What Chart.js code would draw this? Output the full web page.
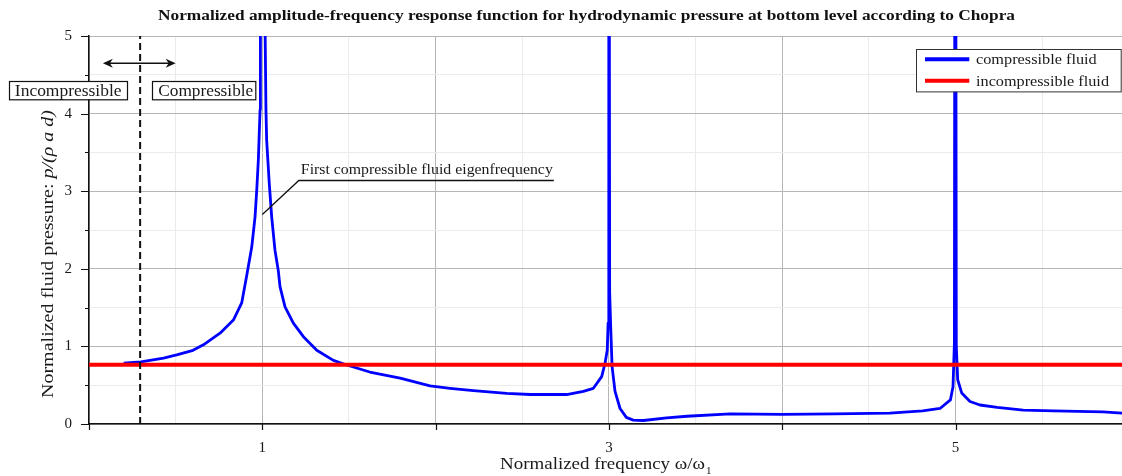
<!DOCTYPE html>
<html><head><meta charset="utf-8">
<script src="https://cdn.jsdelivr.net/npm/chart.js@4/dist/chart.umd.min.js"></script>
<style>html,body{margin:0;padding:0;background:#fff;}#wrap{width:1122px;height:476px;}</style>
</head><body><div id="wrap"><canvas id="c" width="1122" height="476"></canvas></div>
<script>
// ---- data ----
const compressibleFreq = [0.2,0.3,0.352,0.43,0.506,0.6,0.66,0.756,0.833,0.881,0.909,0.939,0.958,0.968,0.977,0.987,0.989,1.0,1.015,1.021,1.025,1.04,1.054,1.073,1.092,1.102,1.131,1.179,1.237,1.314,1.41,1.487,1.62,1.795,1.968,2.083,2.218,2.41,2.545,2.756,2.852,2.91,2.958,2.977,2.99,2.995,2.998,3.0,3.004,3.01,3.018,3.035,3.064,3.10,3.14,3.2,3.333,3.45,3.7,4.0,4.3,4.62,4.81,4.91,4.97,4.985,4.993,4.998,5.004,5.012,5.035,5.083,5.14,5.24,5.39,5.565,5.85,5.96];
const compressiblePressure = [0.785,0.80,0.82,0.85,0.89,0.95,1.02,1.17,1.34,1.56,1.90,2.28,2.67,3.02,3.40,4.05,5.3,12,5.3,4.05,3.66,3.10,2.67,2.24,1.98,1.77,1.51,1.30,1.125,0.95,0.82,0.76,0.67,0.59,0.49,0.46,0.43,0.395,0.38,0.38,0.42,0.46,0.61,0.78,0.95,1.3,1.7,12,1.7,1.25,0.74,0.42,0.20,0.085,0.05,0.045,0.08,0.10,0.13,0.125,0.13,0.14,0.17,0.20,0.31,0.48,1.04,12,1.0,0.57,0.40,0.29,0.245,0.215,0.18,0.17,0.155,0.14];
const incompressibleFreq = [0, 5.96];
const incompressiblePressure = [0.765, 0.765];
const boundaryFreq = [0.295, 0.295];
const boundaryPressure = [0, 5];
const xTickLabels = [1, 3, 5];
const yTickLabels = [0, 1, 2, 3, 4, 5];
const seriesLabels = ['compressible fluid', 'incompressible fluid'];
const arrowFreq = [0.08, 0.50];
const arrowLevel = 4.65;
const regionLabels = ['Incompressible', 'Compressible'];
const regionLevel = 4.30;
const annotationText = 'First compressible fluid eigenfrequency';
const annotationTip = [1.0, 2.7];
const titleText = 'Normalized amplitude-frequency response function for hydrodynamic pressure at bottom level according to Chopra';

const zip = (xs, ys) => xs.map((x, i) => ({x, y: ys[i]}));
const SERIF = '"Liberation Serif", "DejaVu Serif", serif';
const TXT = '#1a1a1a';

function fitText(ctx, text, x, y, width, font, align) {
  ctx.font = font;
  const w = ctx.measureText(text).width;
  const sx = width / w;
  ctx.save();
  ctx.translate(x, y);
  ctx.scale(sx, 1);
  ctx.textAlign = align || 'left';
  ctx.textBaseline = 'alphabetic';
  ctx.fillText(text, 0, 0);
  ctx.restore();
}

const decor = {
  id: 'decor',
  afterDraw(chart) {
    const ctx = chart.ctx, xs = chart.scales.x, ys = chart.scales.y, ca = chart.chartArea;
    ctx.save();
    ctx.fillStyle = TXT; ctx.strokeStyle = '#111';
    // ticks
    ctx.lineWidth = 1.2;
    ctx.beginPath();
    for (let v = 0; v <= 5.001; v += 0.5) {
      const py = Math.round(ys.getPixelForValue(v)) + 0.5;
      const len = Number.isInteger(v) ? 8 : 4;
      ctx.moveTo(ca.left - len, py); ctx.lineTo(ca.left, py);
    }
    for (let v = 0; v <= 5; v += 1) {
      const px = Math.round(xs.getPixelForValue(v)) + 0.5;
      ctx.moveTo(px, ca.bottom); ctx.lineTo(px, ca.bottom + 6);
    }
    ctx.stroke();

    // title
    ctx.fillStyle = '#111';
    fitText(ctx, titleText, 158, 20, 857, 'bold 14px ' + SERIF, 'left');

    // x axis title
    ctx.fillStyle = TXT;
    fitText(ctx, 'Normalized frequency ω/ω', 500, 469, 205, '17px ' + SERIF, 'left');
    ctx.font = '11px ' + SERIF; ctx.textAlign = 'left';
    ctx.fillText('1', 706, 474);

    // y axis title (rotated, mixed style)
    ctx.save();
    ctx.translate(53, 254);
    ctx.rotate(-Math.PI / 2);
    const p1 = 'Normalized fluid pressure: ', p2 = 'p/(ρ a d)';
    const f1 = '17px ' + SERIF, f2 = 'italic 17px ' + SERIF;
    ctx.font = f1; const w1 = ctx.measureText(p1).width;
    ctx.font = f2; const w2 = ctx.measureText(p2).width;
    const sx = 288 / (w1 + w2);
    ctx.scale(sx, 1);
    const start = -(w1 + w2) / 2;
    ctx.textAlign = 'left'; ctx.textBaseline = 'alphabetic';
    ctx.font = f1; ctx.fillText(p1, start, 0);
    ctx.font = f2; ctx.fillText(p2, start + w1, 0);
    ctx.restore();

    // double arrow
    const ay = ys.getPixelForValue(arrowLevel);
    const ax1 = xs.getPixelForValue(arrowFreq[0]), ax2 = xs.getPixelForValue(arrowFreq[1]);
    ctx.strokeStyle = '#111'; ctx.fillStyle = '#111'; ctx.lineWidth = 1.5;
    ctx.beginPath(); ctx.moveTo(ax1 + 6, ay); ctx.lineTo(ax2 - 6, ay); ctx.stroke();
    ctx.beginPath(); ctx.moveTo(ax1, ay); ctx.lineTo(ax1 + 10, ay - 4.5); ctx.lineTo(ax1 + 7, ay); ctx.lineTo(ax1 + 10, ay + 4.5); ctx.closePath(); ctx.fill();
    ctx.beginPath(); ctx.moveTo(ax2, ay); ctx.lineTo(ax2 - 10, ay - 4.5); ctx.lineTo(ax2 - 7, ay); ctx.lineTo(ax2 - 10, ay + 4.5); ctx.closePath(); ctx.fill();

    // region boxes
    const dx = xs.getPixelForValue(boundaryFreq[0]);
    const cy = ys.getPixelForValue(regionLevel);
    const bh = 18.3;
    const boxes = [
      {text: regionLabels[0], left: dx - 131, w: 118, tx: 5.7, tw: 106.7},
      {text: regionLabels[1], left: dx + 11.5, w: 103.3, tx: 6.6, tw: 95}
    ];
    boxes.forEach(b => {
      ctx.fillStyle = '#fff';
      ctx.fillRect(b.left, cy - bh / 2, b.w, bh);
      ctx.strokeStyle = '#111'; ctx.lineWidth = 1.2;
      ctx.strokeRect(Math.round(b.left) + 0.5, Math.round(cy - bh / 2) + 0.5, b.w, bh);
      ctx.fillStyle = TXT;
      fitText(ctx, b.text, b.left + b.tx, cy + 6, b.tw, '16px ' + SERIF, 'left');
    });

    // annotation with leader
    const tipX = xs.getPixelForValue(annotationTip[0]), tipY = ys.getPixelForValue(annotationTip[1]);
    const ulY = tipY - 34, ulX1 = tipX + 36.5, ulX2 = tipX + 291.5;
    ctx.strokeStyle = '#111'; ctx.lineWidth = 1.3;
    ctx.beginPath(); ctx.moveTo(tipX, tipY); ctx.lineTo(ulX1, ulY); ctx.lineTo(ulX2, ulY); ctx.stroke();
    ctx.fillStyle = TXT;
    fitText(ctx, annotationText, ulX1 + 2, ulY - 6, 252, '15px ' + SERIF, 'left');

    // legend
    const lx = ca.right - 206, ly = ca.top + 13.3, lw = 204.7, lh = 42.4;
    ctx.fillStyle = '#fff'; ctx.fillRect(lx, ly, lw, lh);
    ctx.strokeStyle = '#333'; ctx.lineWidth = 1;
    ctx.strokeRect(Math.round(lx) + 0.5, Math.round(ly) + 0.5, lw, lh);
    const ds = chart.data.datasets;
    const rows = [{ds: ds[0], y: ly + 10, tw: 120.7}, {ds: ds[1], y: ly + 31.4, tw: 133}];
    rows.forEach(r => {
      ctx.strokeStyle = r.ds.borderColor; ctx.lineWidth = 4;
      ctx.beginPath(); ctx.moveTo(lx + 9, r.y); ctx.lineTo(lx + 53.3, r.y); ctx.stroke();
      ctx.fillStyle = TXT;
      fitText(ctx, r.ds.label, lx + 60, r.y + 5, r.tw, '14px ' + SERIF, 'left');
    });
    ctx.restore();
  }
};

new Chart(document.getElementById('c'), {
  type: 'scatter',
  data: {
    datasets: [
      {label: seriesLabels[0], data: zip(compressibleFreq, compressiblePressure), showLine: true, borderColor: '#0000ff', borderWidth: 2.8, pointRadius: 0, tension: 0, borderJoinStyle: 'round', order: 3},
      {label: seriesLabels[1], data: zip(incompressibleFreq, incompressiblePressure), showLine: true, borderColor: '#ff0000', borderWidth: 4, pointRadius: 0, order: 2},
      {label: 'boundary', data: zip(boundaryFreq, boundaryPressure), showLine: true, borderColor: '#111', borderWidth: 2, borderDash: [7, 4], pointRadius: 0, order: 1}
    ]
  },
  options: {
    responsive: false,
    animation: false,
    devicePixelRatio: 1,
    layout: {padding: {top: 36, right: 0, left: 0, bottom: 0}},
    plugins: {legend: {display: false}, tooltip: {enabled: false}, title: {display: false}},
    scales: {
      x: {
        type: 'linear', min: 0, max: 5.96,
        ticks: {stepSize: 0.5, includeBounds: false, autoSkip: false, maxRotation: 0, padding: 15,
          font: {family: SERIF, size: 15}, color: TXT,
          callback: v => xTickLabels.includes(v) ? String(v) : ''},
        grid: {drawTicks: false, lineWidth: 1, color: c => Number.isInteger(c.tick.value) ? '#b5b5b5' : '#ebebeb'},
        border: {display: true, color: '#111', width: 1.5},
        afterFit: s => { s.height = 52; }
      },
      y: {
        min: 0, max: 5,
        ticks: {stepSize: 0.5, autoSkip: false, padding: 17,
          font: {family: SERIF, size: 15}, color: TXT,
          callback: v => yTickLabels.includes(v) ? String(v) : ''},
        grid: {drawTicks: false, lineWidth: 1, color: c => Number.isInteger(c.tick.value) ? '#b5b5b5' : '#ebebeb'},
        border: {display: true, color: '#111', width: 1.5},
        afterFit: s => { s.width = 89; }
      }
    }
  },
  plugins: [decor]
});
</script></body></html>
